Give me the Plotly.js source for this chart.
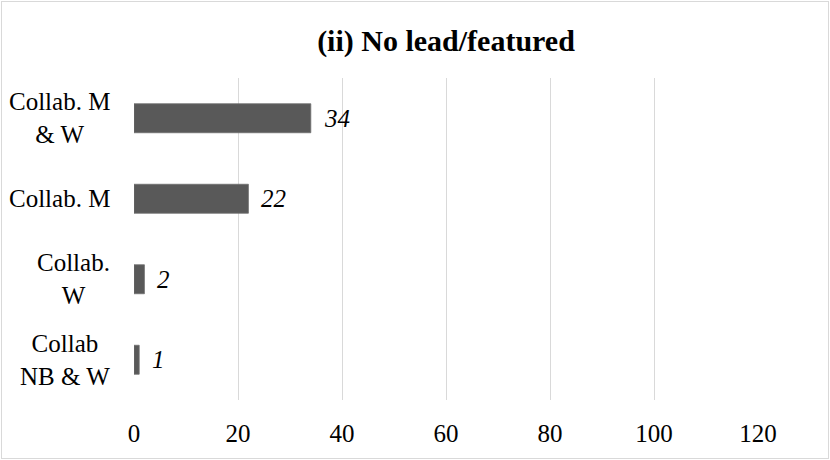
<!DOCTYPE html>
<html>
<head>
<meta charset="utf-8">
<script src="https://cdn.plot.ly/plotly-3.0.1.min.js"></script>
<style>
  html, body { margin: 0; padding: 0; background: #ffffff; }
  #chart { width: 830px; height: 460px; position: absolute; left: 0; top: 0; }
  #chart text { font-family: "Liberation Serif", "Times New Roman", serif !important; }
  #frame { position: absolute; left: 1px; top: 1px; width: 828px; height: 458px;
           box-sizing: border-box; border: 1px solid #d9d9d9; pointer-events: none; }
</style>
</head>
<body>
<div id="chart"></div>
<div id="frame"></div>
<script>
// Data (top-to-bottom order as shown)
const categories = ["Collab. M & W", "Collab. M", "Collab. W", "Collab NB & W"];
const categoryLabels = ["Collab. M<br>& W", "Collab. M", "Collab.<br>W", "Collab<br>NB & W"];
const values = [34, 22, 2, 1];
const xTicks = [0, 20, 40, 60, 80, 100, 120];
const chartTitle = "(ii) No lead/featured";

const trace = {
  type: "bar",
  orientation: "h",
  y: categories,
  x: values,
  marker: { color: "#595959", line: { color: "#6e6e6e", width: 0.8 } },
  width: 0.36,
  hoverinfo: "x+y"
};

const annotations = [];
categories.forEach((c, i) => {
  annotations.push({
    x: values[i], y: c, xref: "x", yref: "y",
    text: "<i>" + values[i] + "</i>", showarrow: false,
    xanchor: "left", yanchor: "middle", xshift: 11,
    font: { family: "Liberation Serif", size: 25, color: "#000000" }
  });
  annotations.push({
    x: 0, y: c, xref: "paper", yref: "y",
    text: categoryLabels[i], showarrow: false,
    xanchor: "right", yanchor: "middle", align: "center", xshift: -22,
    font: { family: "Liberation Serif", size: 25, color: "#000000" }
  });
});

const layout = {
  width: 830, height: 460,
  margin: { l: 134, r: 72, t: 78, b: 60 },
  paper_bgcolor: "#ffffff",
  plot_bgcolor: "#ffffff",
  showlegend: false,
  font: { family: "Liberation Serif", size: 25 },
  title: {
    text: "<b>" + chartTitle + "</b>",
    x: 0.5, xref: "paper", xanchor: "center",
    y: 1 - 40 / 460, yref: "container", yanchor: "middle",
    font: { family: "Liberation Serif", size: 30, color: "#000000" }
  },
  xaxis: {
    range: [0, 120],
    tickvals: xTicks,
    ticktext: xTicks.map(String),
    showgrid: true, gridcolor: "#d9d9d9", gridwidth: 1.3,
    zeroline: false, showline: false,
    ticks: "", ticklabelstandoff: 16,
    tickfont: { family: "Liberation Serif", size: 25, color: "#000000" },
    fixedrange: true
  },
  yaxis: {
    type: "category",
    categoryorder: "array",
    categoryarray: categories,
    autorange: "reversed",
    showticklabels: false,
    showgrid: false, zeroline: false, showline: false, ticks: "",
    fixedrange: true
  },
  annotations: annotations
};

Plotly.newPlot("chart", [trace], layout, { displayModeBar: false }).then(function () {
  document.querySelectorAll("#chart text").forEach(function (t) {
    t.style.fontFamily = '"Liberation Serif", "Times New Roman", serif';
  });
});
</script>
</body>
</html>
